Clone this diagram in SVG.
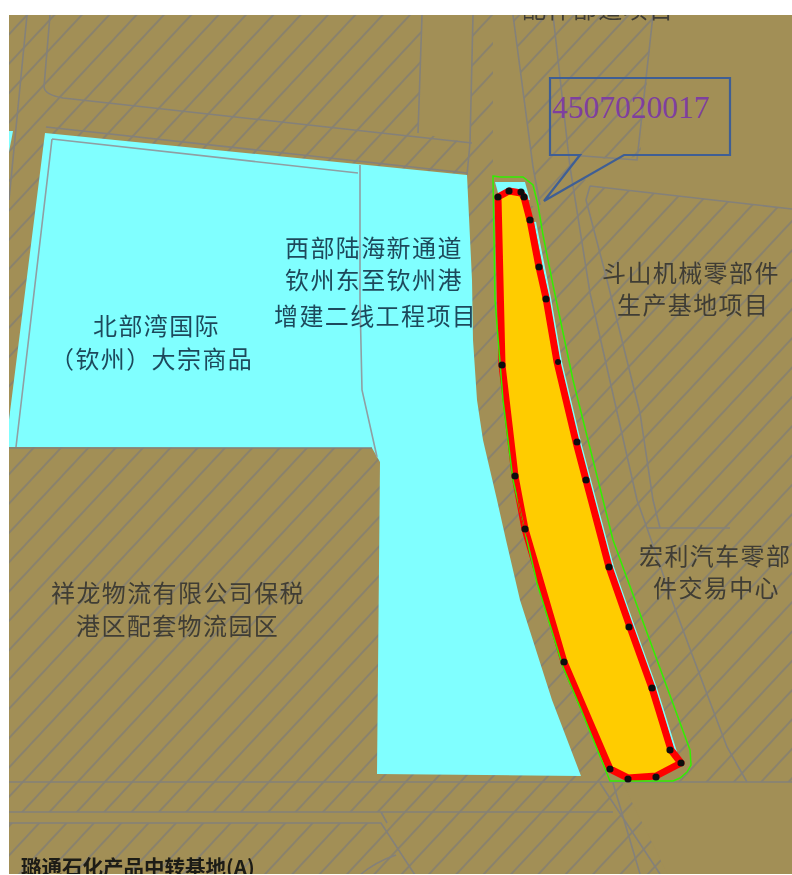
<svg xmlns="http://www.w3.org/2000/svg" width="792" height="875" viewBox="0 0 792 875">
<style>
.t{font-family:"Noto Sans CJK SC","Noto Sans",sans-serif;font-size:24px;letter-spacing:1.4px;fill:#3f3d34}
.c{fill:#1f4a5c}
.g{fill:none;stroke:#84817a;stroke-width:1.6}
.i{fill:none;stroke:#8f9fa3;stroke-width:1.6}
.p{fill:#a28f56}
</style>
<defs>
<pattern id="h" width="20" height="20" patternUnits="userSpaceOnUse" patternTransform="rotate(-47)">
<rect width="20" height="20" fill="#a28f56"/>
<line x1="0" y1="10" x2="20" y2="10" stroke="#7f7d76" stroke-width="1.4"/>
</pattern>
<clipPath id="page"><rect x="9" y="15" width="783" height="859"/></clipPath>
<filter id="b" x="-2%" y="-2%" width="104%" height="104%"><feGaussianBlur stdDeviation="0.45"/></filter>
</defs>
<rect width="792" height="875" fill="#fff"/>
<g clip-path="url(#page)">
<g id="ground" filter="url(#b)">
<rect x="9" y="15" width="783" height="859" fill="url(#h)"/>
<polygon class="p" points="422,15 473,15 470,143 418,133"/>
<polygon class="p" points="493,15 513,15 533,167 542,210 493,190"/>
<polygon class="p" points="653,15 792,15 792,209 590,186 572,160 640,157"/>
<polygon class="p" points="622,782 792,782 792,875 668,875"/>
<rect class="p" x="9" y="812" width="372" height="11"/>
<path class="g" d="M27,15 9,200M50,15 44,87Q45,95 63,98L472,143M46,127 467,173M422,15 418,133M473,15 470,143 467,175"/>
<path class="g" d="M513,15 533,167 540,205M553,15 570,167 590,293 637,500 647,528M653,15 637,160 570,155M590,186 792,209M590,186 586,200 607,280 640,413 653,500 660,528M647,528 673,603 693,657 727,747 747,782M647,528H730"/>
<path class="g" d="M9,782H792M9,812H613M9,823H381L415,875M381,812 387,823M600,783 660,874M613,783 640,874M360,875Q375,862 396,855"/>
</g>
<g id="corridor" filter="url(#b)">
<path fill="#80ffff" d="M45,133 467,175 472,280 473,340 477,400 483,440 497,500 506,540 520,600 552,700 581,776 377,774 380,462 372,448 9,447 9,420Z"/>
<polygon fill="#80ffff" points="9,131 13,131 9,152"/>
<path class="i" d="M52,139 358,173M52,139 16,447M360,165V300L362,390 377,457"/>
<path class="g" d="M9,448H372"/>
</g>
<g id="parcel" filter="url(#b)">
<polygon fill="#80ffff" points="495,182 525,182 530,200 500,200"/>
<polyline fill="none" stroke="#80ffff" stroke-width="2" points="535,222 550,298 561,362 580,442 590,480 613,567 634,627 656,688 676,752"/>
<polygon points="498,197 509,191 521,193 524,197 530,220 539,267 546,298 557,362 576,442 586,480 609,567 630,627 652,688 671,750 681,763 656,776 628,778 610,769 564,662 525,529 515,476 502,365" fill="#ffcc00" stroke="#ff0000" stroke-width="7" stroke-linejoin="round"/>
<polygon points="493,176 500,177 523,177 533,185 538,205 543,235 553,285 573,380 603,500 613,540 690,750 691,765 687,772 680,778 673,781 610,781 580,707 563,667 537,583 520,510 513,480 503,400 495,300" fill="none" stroke="#33ee00" stroke-width="1.5"/>
<path fill="none" stroke="#ff0000" stroke-width="1" d="M517,490Q520,520 530,545"/>
<g fill="#111"><circle cx="498" cy="197" r="3.6"/><circle cx="509" cy="191" r="3.6"/><circle cx="521" cy="192" r="3.6"/><circle cx="524" cy="197" r="3.6"/><circle cx="530" cy="220" r="3.6"/><circle cx="539" cy="267" r="3.6"/><circle cx="546" cy="299" r="3.6"/><circle cx="558" cy="362" r="3"/><circle cx="577" cy="442" r="3.6"/><circle cx="586" cy="480" r="3.6"/><circle cx="609" cy="567" r="3.6"/><circle cx="629" cy="627" r="3.6"/><circle cx="652" cy="688" r="3.6"/><circle cx="670" cy="750" r="3.6"/><circle cx="681" cy="763" r="3.6"/><circle cx="656" cy="777" r="3.6"/><circle cx="628" cy="779" r="3.6"/><circle cx="610" cy="769" r="3.6"/><circle cx="564" cy="662" r="3.6"/><circle cx="525" cy="529" r="3.6"/><circle cx="515" cy="476" r="3.6"/><circle cx="502" cy="365" r="3.6"/></g>
</g>
<g id="callout">
<polygon points="550,78 730,78 730,155 624,155 544,201 580,155 550,155" fill="none" stroke="#3f5f95" stroke-width="2.2"/>
<text x="552" y="118" font-family="'Liberation Serif',serif" font-size="31.5" fill="#7e3f9f">4507020017</text>
</g>
<g id="labels" filter="url(#b)">
<text class="t" x="522" y="18">配件部道项目</text>
<text class="t c" x="285" y="257">西部陆海新通道</text>
<text class="t c" x="285" y="289">钦州东至钦州港</text>
<text class="t c" x="274" y="325">增建二线工程项目</text>
<text class="t c" x="93" y="335">北部湾国际</text>
<text class="t c" x="50" y="368">（钦州）大宗商品</text>
<text class="t" x="602" y="282">斗山机械零部件</text>
<text class="t" x="617" y="314">生产基地项目</text>
<text class="t" x="639" y="565">宏利汽车零部</text>
<text class="t" x="653" y="597">件交易中心</text>
<text class="t" x="51" y="602">祥龙物流有限公司保税</text>
<text class="t" x="76" y="635">港区配套物流园区</text>
<text x="21" y="875" font-family="'Noto Sans CJK SC',sans-serif" font-size="20.5" font-weight="700" fill="#1c1a14">璐通石化产品中转基地(A)</text>
</g>
</g>
</svg>
